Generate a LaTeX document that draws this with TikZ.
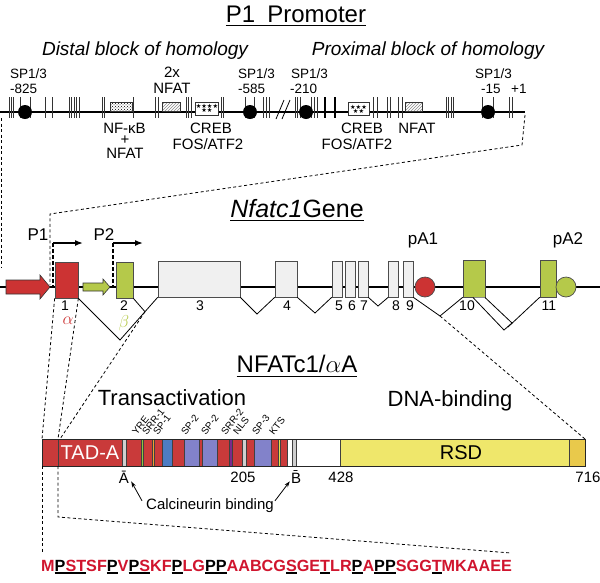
\documentclass[tikz,border=0pt]{standalone}
\usepackage{fontspec}
\setmainfont{Liberation Sans}
\newfontfamily\dvs{DejaVu Sans}
\usetikzlibrary{patterns,arrows.meta}
\definecolor{gred}{HTML}{CC3333}
\definecolor{ggreen}{HTML}{B5C94A}
\definecolor{ggray}{HTML}{F0F0F0}
\definecolor{pred}{HTML}{C93A3A}
\definecolor{plav}{HTML}{8282CA}
\definecolor{pblue}{HTML}{4D7CC3}
\definecolor{pgray}{HTML}{CFCFCF}
\definecolor{pgreen}{HTML}{8DC63F}
\definecolor{porange}{HTML}{F0A030}
\definecolor{ppurple}{HTML}{7B2A8C}
\definecolor{pyel}{HTML}{E8E050}
\definecolor{prsd}{HTML}{EFE76B}
\definecolor{pgold}{HTML}{E9C94B}
\definecolor{seqred}{HTML}{D0152E}
\newcommand\fsz[1]{\fontsize{#1}{#1}\selectfont}
\newcommand\ulk[1]{\setbox0\hbox{{#1}}\rlap{\textcolor{black}{\rule[-2.6pt]{\wd0}{1.5pt}}}\box0}
\newcommand\tul[1]{\setbox0\hbox{{#1}}\rlap{\rule[-4pt]{\wd0}{1.1pt}}\box0}
\newcommand\bP{\ulk{\textcolor{black}{P}}}
\newcommand\rU[1]{\ulk{#1}}
\begin{document}
\begin{tikzpicture}[x=1pt,y=-1pt,
  lab/.style={inner sep=0, font=\fsz{13.5}},
  mid/.style={inner sep=0, font=\fsz{15}},
  big/.style={inner sep=0, font=\fsz{22}},
  ttl/.style={inner sep=0, font=\fsz{24}},
  blk/.style={inner sep=0, font=\fsz{19}\itshape},
  num/.style={inner sep=0, font=\fsz{14}},
  tiny/.style={inner sep=0.3, font=\fsz{9.8}, rotate=52, anchor=south west},
  tickl/.style={line width=0.7, black!80},
  sp/.style={circle, fill=black, inner sep=0, minimum size=14},
  pbox/.style={draw=black!80, line width=0.6, inner sep=0, preaction={fill=white}},
  sbox/.style={draw=black!80, line width=0.6, inner sep=0, fill=white, align=center, font=\dvs\fsz{6.2}},
  exon/.style={draw=black!70, line width=0.7, inner sep=0, minimum height=36},
  splice/.style={line width=0.8, black},
  dsh/.style={line width=0.8, dash pattern=on 3pt off 2.5pt},
  tdsh/.style={line width=1.6, dash pattern=on 4pt off 2pt},
  tss/.style={line width=1.5, -{Latex[length=8pt,width=6pt]}},
  seg/.style={draw=black!75, line width=0.5},
  arr/.style={line width=0.8, -{Stealth[length=6pt,width=4pt]}}]
\useasboundingbox (0,0) rectangle (600,582);

% ---------- P1 promoter ----------
\node[ttl] (t1) at (296,16) {\tul{P1\hspace{12pt}Promoter}};
\node[blk] (dist) at (145,51) {Distal block of homology};
\node[blk] (prox) at (428,51) {Proximal block of homology};

\draw[line width=2.2] (0,112) -- (525,112);
\foreach \x in {9,11,13.5,20,30,45,52,69,71.5,74,76.5,79,102,104.5,133,155,158,186,188.5,191,221,223.5,245,254,263,266,269,295,297.5,300,311,314,317,373,377,387,390,398,402,446,448.5,451,453.5,482,493,509,512}
  \draw[tickl] (\x,97) -- (\x,118);
\draw[line width=2.2] (325,97) -- (325,118);
\draw[line width=2.2] (335,97) -- (335,118);
\draw[line width=0.8] (276,119) -- (284,100);
\draw[line width=0.8] (282,119) -- (290,100);

\node[sp] (s1) at (25,112) {};
\node[sp] (s2) at (250,112) {};
\node[sp] (s3) at (306,112) {};
\node[sp] (s4) at (488,112) {};

\node[lab, anchor=west] (s1a) at (10,74) {SP1/3};
\node[lab, anchor=west] (s1b) at (10,89) {-825};
\node[lab, anchor=west] (s2a) at (238,74) {SP1/3};
\node[lab, anchor=west] (s2b) at (238,89) {-585};
\node[lab, anchor=west] (s3a) at (291,74) {SP1/3};
\node[lab, anchor=west] (s3b) at (290,89) {-210};
\node[lab, anchor=west] (s4a) at (475,74) {SP1/3};
\node[lab, anchor=west] (s4b) at (481,89) {-15};
\node[lab, anchor=west] (p1) at (511,89) {+1};

\node[pbox, pattern=crosshatch dots, pattern color=black, minimum width=22, minimum height=9] (bnfkb) at (121,107) {};
\node[pbox, pattern=north east lines, pattern color=black!45, minimum width=18, minimum height=9] (bnfat1) at (171,106.5) {};
\node[sbox, minimum width=23, minimum height=13] (bcreb1) at (207,108.5) {★★★★\\[-2pt]★★};
\node[sbox, minimum width=21, minimum height=13] (bcreb2) at (358.5,109) {★★★\\[-2pt]★★};
\node[pbox, pattern=north east lines, pattern color=black!45, minimum width=17, minimum height=9] (bnfat2) at (413.5,106.5) {};

\node[mid] (l2x) at (172,72) {2x};
\node[mid] (lnfat1) at (172,88) {NFAT};
\node[mid] (lnfkb) at (124.5,128) {NF-κB};
\node[mid] (lplus) at (125,140) {+};
\node[mid] (lnfat0) at (125,153) {NFAT};
\node[mid] (lcreb1) at (211,128) {CREB};
\node[mid] (lfos1) at (208,144) {FOS/ATF2};
\node[mid] (lcreb2) at (362,128) {CREB};
\node[mid] (lfos2) at (357,144) {FOS/ATF2};
\node[mid] (lnfat2) at (417,128) {NFAT};

% zoom lines promoter -> gene
\coordinate (zl1) at (1.5,118);
\coordinate (zl2) at (1.5,268);
\coordinate (zr1) at (525,115);
\coordinate (zr2) at (522,145);
\coordinate (zr3) at (50,214);
\coordinate (zr4) at (50,285);
\draw[dsh] (zl1) -- (zl2);
\draw[dsh] (zr1) -- (zr2) -- (zr3) -- (zr4);

% ---------- Gene ----------
\node[inner sep=0, font=\fsz{25}] (gt) at (297,210) {\tul{\textit{Nfatc1}Gene}};
\draw[line width=1.5] (0,287) -- (600,287);

\draw[black!80, line width=0.6, fill=gred] (6,280) -- (40,280) -- (40,275) -- (50,287) -- (40,299) -- (40,294) -- (6,294) -- cycle;
\draw[black!80, line width=0.6, fill=ggreen] (83,283) -- (103,283) -- (103,279) -- (110,287) -- (103,295) -- (103,291) -- (83,291) -- cycle;

\node[exon, fill=gred, minimum width=23] (e1) at (66.5,280) {};
\node[exon, fill=ggreen, minimum width=17] (e2) at (124.5,280) {};
\node[exon, fill=ggray, minimum width=82] (e3) at (199,279) {};
\node[exon, fill=ggray, minimum width=22] (e4) at (286,279) {};
\node[exon, fill=ggray, minimum width=10] (e5) at (337,279) {};
\node[exon, fill=ggray, minimum width=10] (e6) at (350,279) {};
\node[exon, fill=ggray, minimum width=10] (e7) at (363,279) {};
\node[exon, fill=ggray, minimum width=10] (e8) at (393.5,279) {};
\node[exon, fill=ggray, minimum width=10] (e9) at (408,279) {};
\node[exon, fill=ggreen, minimum width=22, minimum height=37] (e10) at (474,278.5) {};
\node[exon, fill=ggreen, minimum width=16, minimum height=37] (e11) at (548,278.5) {};
\node[circle, draw=black!70, line width=0.7, fill=gred, minimum size=20, inner sep=0] (pa1) at (425,287) {};
\node[circle, draw=black!70, line width=0.7, fill=ggreen, minimum size=20, inner sep=0] (pa2) at (566,287) {};

\node[num] (n1) at (65,306) {1};
\node[num] (n2) at (124,306) {2};
\node[num] (n3) at (200,306) {3};
\node[num] (n4) at (287,306) {4};
\node[num] (n5) at (339,306) {5};
\node[num] (n6) at (352,306) {6};
\node[num] (n7) at (364,306) {7};
\node[num] (n8) at (396,306) {8};
\node[num] (n9) at (410,306) {9};
\node[num] (n10) at (467,306) {10};
\node[num] (n11) at (549,306) {11};
\node[inner sep=0, font=\fsz{19}, text=gred] (alpha) at (68,321) {$\alpha$};
\node[inner sep=0, font=\fsz{19}, text=ggreen] (beta) at (124,323) {$\beta$};

\node[inner sep=0, font=\fsz{17}] (lp1) at (38,235) {P1};
\node[inner sep=0, font=\fsz{17}] (lp2) at (104,235) {P2};
\node[inner sep=0, font=\fsz{17}] (lpa1) at (423,240) {pA1};
\node[inner sep=0, font=\fsz{17}] (lpa2) at (568,240) {pA2};

\coordinate (t1a) at (53,243);
\coordinate (t1b) at (83,243);
\coordinate (t1c) at (53,287);
\coordinate (t2a) at (113,243);
\coordinate (t2b) at (143,243);
\coordinate (t2c) at (113,287);
\draw[tdsh] (t1a) -- (t1c);
\draw[tdsh] (t2a) -- (t2c);
\draw[tss] (t1a) -- (t1b);
\draw[tss] (t2a) -- (t2b);

% splicing
\coordinate (v1) at (120,340);
\coordinate (v2) at (145,311.7);
\coordinate (v3) at (257,314);
\coordinate (v4) at (315,313);
\coordinate (v7) at (378,306);
\coordinate (v9) at (440,316);
\coordinate (v10) at (508,327);
\draw[splice] (e1.south east) -- (v1) -- (e3.south west);
\draw[splice] (e2.south east) -- (v2);
\draw[splice] (e3.south east) -- (v3) -- (e4.south west);
\draw[splice] (e4.south east) -- (v4) -- (e5.south west);
\draw[splice] (e7.south east) -- (v7) -- (e8.south west);
\draw[splice] (e9.south east) -- (v9) -- (e10.south west);
\draw[splice, fill=white] (473,297.5) -- (504,330) -- (512,323) -- (485,297.5);
\draw[splice] (v10) -- (e11.south west);

% ---------- Protein ----------
\node[inner sep=0, font=\fsz{24}] (pt) at (297,366) {\tul{NFATc1/$\alpha$A}};
\node[big] (trans) at (172,398) {Transactivation};
\node[big] (dnab) at (450,401) {DNA-binding};

\coordinate (d1) at (42,439);
\coordinate (d2) at (58,439);
\coordinate (d3) at (60,439);
\coordinate (d4) at (585,439);
\draw[dsh] (e1.south west) -- (d1);
\draw[dsh] (e1.south east) -- (d2);
\draw[dsh] (v2) -- (d3);
\draw[dsh] (v9) -- (d4);

\foreach \a/\b/\c in {42/58/pred,58/122/pred,122/126/pgray,126/141/pred,141/143/pgreen,143/152/pred,152/154/porange,154/162/pred,162/172/pblue,172/184/pred,184/199/plav,199/202/pred,202/217/plav,217/229/pred,229/232/ppurple,232/242/pred,242/246/pgray,246/254/pred,254/271/plav,271/278/pred,278/280/pyel,280/287/pred,287/292/white,292/296/pgray,296/340/white,340/569/prsd,569/585/pgold}
  \draw[seg, fill=\c] (\a,439) rectangle (\b,466);
\draw[line width=1, black!85] (42,439) rectangle (585,466);

\node[inner sep=0, font=\fsz{20}, text=white] (tada) at (90,453) {TAD-A};
\node[inner sep=0, font=\fsz{20}] (rsd) at (461,453) {RSD};

\node[tiny] (y1) at (137,436) {YRE};
\node[tiny] (y2) at (147,436) {SRR-1};
\node[tiny] (y3) at (158,436) {SP-1};
\node[tiny] (y4) at (186,436) {SP-2};
\node[tiny] (y5) at (206,436) {SP-2};
\node[tiny] (y6) at (226,436) {SRR-2};
\node[tiny] (y7) at (238,436) {NLS};
\node[tiny] (y8) at (257,436) {SP-3};
\node[tiny] (y9) at (274,436) {KTS};

\node[mid] (la) at (124,477) {\=A};
\node[mid] (lb) at (296,477) {\=B};
\node[mid] (l205) at (243,477) {205};
\node[mid] (l428) at (341,477) {428};
\node[mid] (l716) at (588,477) {716};
\node[mid] (cal) at (210,506) {Calcineurin binding};
\draw[arr] ([xshift=-4pt,yshift=-2pt]cal.north west) -- ([xshift=2pt,yshift=2pt]la.south east);
\draw[arr] ([xshift=1pt,yshift=-2pt]cal.north east) -- ([xshift=-1pt,yshift=2pt]lb.south west);

\coordinate (q1) at (42,466);
\coordinate (q2) at (42,553);
\coordinate (q3) at (58,466);
\coordinate (q4) at (58,517);
\coordinate (q5) at (511,553);
\draw[dsh] (q1) -- (q2);
\draw[dsh] (q3) -- (q4) -- (q5);

\node[inner sep=0, anchor=west, font=\fsz{16.2}\bfseries, text=seqred] (seq) at (41,567)
 {M\bP\rU{S}\rU{T}SF\bP V\bP\rU{S}KF\bP LG\bP\bP AABCG\rU{S}GE\rU{T}LR\bP A\bP\bP SGG\rU{T}MKAAEE};
\end{tikzpicture}
\end{document}
